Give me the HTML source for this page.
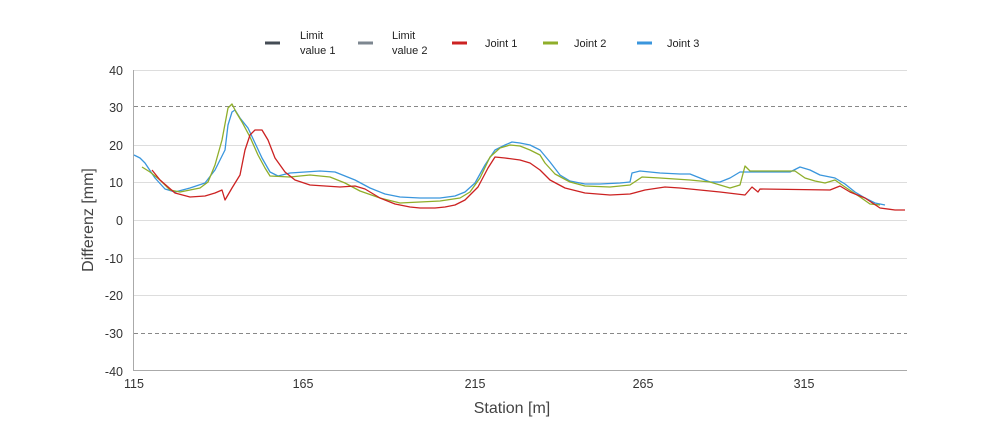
<!DOCTYPE html>
<html><head><meta charset="utf-8"><style>body{margin:0;background:#fff}svg{display:block}text{font-family:"Liberation Sans",sans-serif}</style></head><body>
<svg width="993" height="438" xmlns="http://www.w3.org/2000/svg">
<g stroke="#ddd" stroke-width="1">
<line x1="134" y1="70.5" x2="907" y2="70.5"/><line x1="134" y1="145.5" x2="907" y2="145.5"/><line x1="134" y1="182.5" x2="907" y2="182.5"/><line x1="134" y1="220.5" x2="907" y2="220.5"/><line x1="134" y1="258.5" x2="907" y2="258.5"/><line x1="134" y1="295.5" x2="907" y2="295.5"/>
</g>
<line x1="134" y1="106.5" x2="907" y2="106.5" stroke="#888" stroke-dasharray="4,3"/>
<line x1="134" y1="333.5" x2="907" y2="333.5" stroke="#888" stroke-dasharray="4,3"/>
<line x1="133.5" y1="70" x2="133.5" y2="371" stroke="#aaa"/>
<line x1="133" y1="370.5" x2="907" y2="370.5" stroke="#aaa"/>
<g font-size="12.5" fill="#333" text-anchor="end">
<text x="123" y="75">40</text><text x="123" y="112">30</text><text x="123" y="150">20</text><text x="123" y="187">10</text><text x="123" y="225">0</text><text x="123" y="263">-10</text><text x="123" y="300">-20</text><text x="123" y="338">-30</text><text x="123" y="376">-40</text>
</g>
<g font-size="12.5" fill="#333" text-anchor="middle">
<text x="134" y="388">115</text><text x="303" y="388">165</text><text x="475" y="388">215</text><text x="643" y="388">265</text><text x="804" y="388">315</text>
</g>
<text x="512" y="413" font-size="16" fill="#444" text-anchor="middle">Station [m]</text>
<text transform="translate(93,220) rotate(-90)" font-size="16" fill="#444" text-anchor="middle">Differenz [mm]</text>
<g fill="none" stroke-width="1.3" stroke-linejoin="round">
<polyline stroke="#3a96dd" points="134,155 140,158 145,163 155,178 165,189 175,192 190,188 205,183 215,170 225,150 228,125 232,112 235,110 240,118 248,128 255,143 262,158 270,172 278,176 290,173 305,172 320,171 335,172 345,176 355,180 370,188 385,194 400,197 420,198 440,198 455,196 465,192 475,183 485,165 495,150 505,145 512,142 520,143 530,145 540,150 550,162 560,175 570,181 585,184 600,184 620,183 630,182 632,173 640,171 660,173 680,174 690,174 700,178 710,182 720,182 730,178 740,172 790,172 800,167 810,170 820,175 835,178 845,184 855,192 865,198 875,203 885,205"/>
<polyline stroke="#8fae2a" points="142,167 150,172 160,180 170,190 180,192 190,190 200,188 208,182 215,165 222,140 228,108 232,104 236,112 242,122 250,137 258,155 265,168 270,176 290,177 310,175 330,177 345,183 360,191 380,198 400,203 420,202 440,201 460,198 470,192 480,178 490,157 500,148 510,145 520,146 530,150 540,155 545,163 555,174 570,182 585,186 610,187 630,185 642,177 660,178 690,180 710,182 730,188 740,185 745,166 750,171 795,171 805,178 815,181 825,183 835,180 845,187 860,197 870,204 880,205"/>
<polyline stroke="#cc2222" points="152,170 160,180 175,193 190,197 205,196 215,193 222,190 225,200 232,188 240,175 245,150 250,135 255,130 262,130 268,140 275,158 285,172 295,180 310,185 325,186 340,187 355,186 365,189 380,198 395,204 410,207 420,208 435,208 445,207 455,205 465,200 478,187 488,168 495,157 505,158 520,160 530,163 540,170 550,180 565,188 585,193 610,195 630,194 645,190 665,187 680,188 700,190 720,192 745,195 752,187 758,192 760,189 830,190 840,186 850,192 865,198 880,208 895,210 905,210"/>
</g>
<g stroke-width="3">
<line x1="265" y1="43" x2="280" y2="43" stroke="#444c55"/>
<line x1="358" y1="43" x2="373" y2="43" stroke="#7d8790"/>
<line x1="452" y1="43" x2="467" y2="43" stroke="#cc2222"/>
<line x1="543" y1="43" x2="558" y2="43" stroke="#8fae2a"/>
<line x1="637" y1="43" x2="652" y2="43" stroke="#3a96dd"/>
</g>
<g font-size="11" fill="#222">
<text x="300" y="39">Limit</text><text x="300" y="54">value 1</text>
<text x="392" y="39">Limit</text><text x="392" y="54">value 2</text>
<text x="485" y="47">Joint 1</text><text x="574" y="47">Joint 2</text><text x="667" y="47">Joint 3</text>
</g>
</svg>
</body></html>
